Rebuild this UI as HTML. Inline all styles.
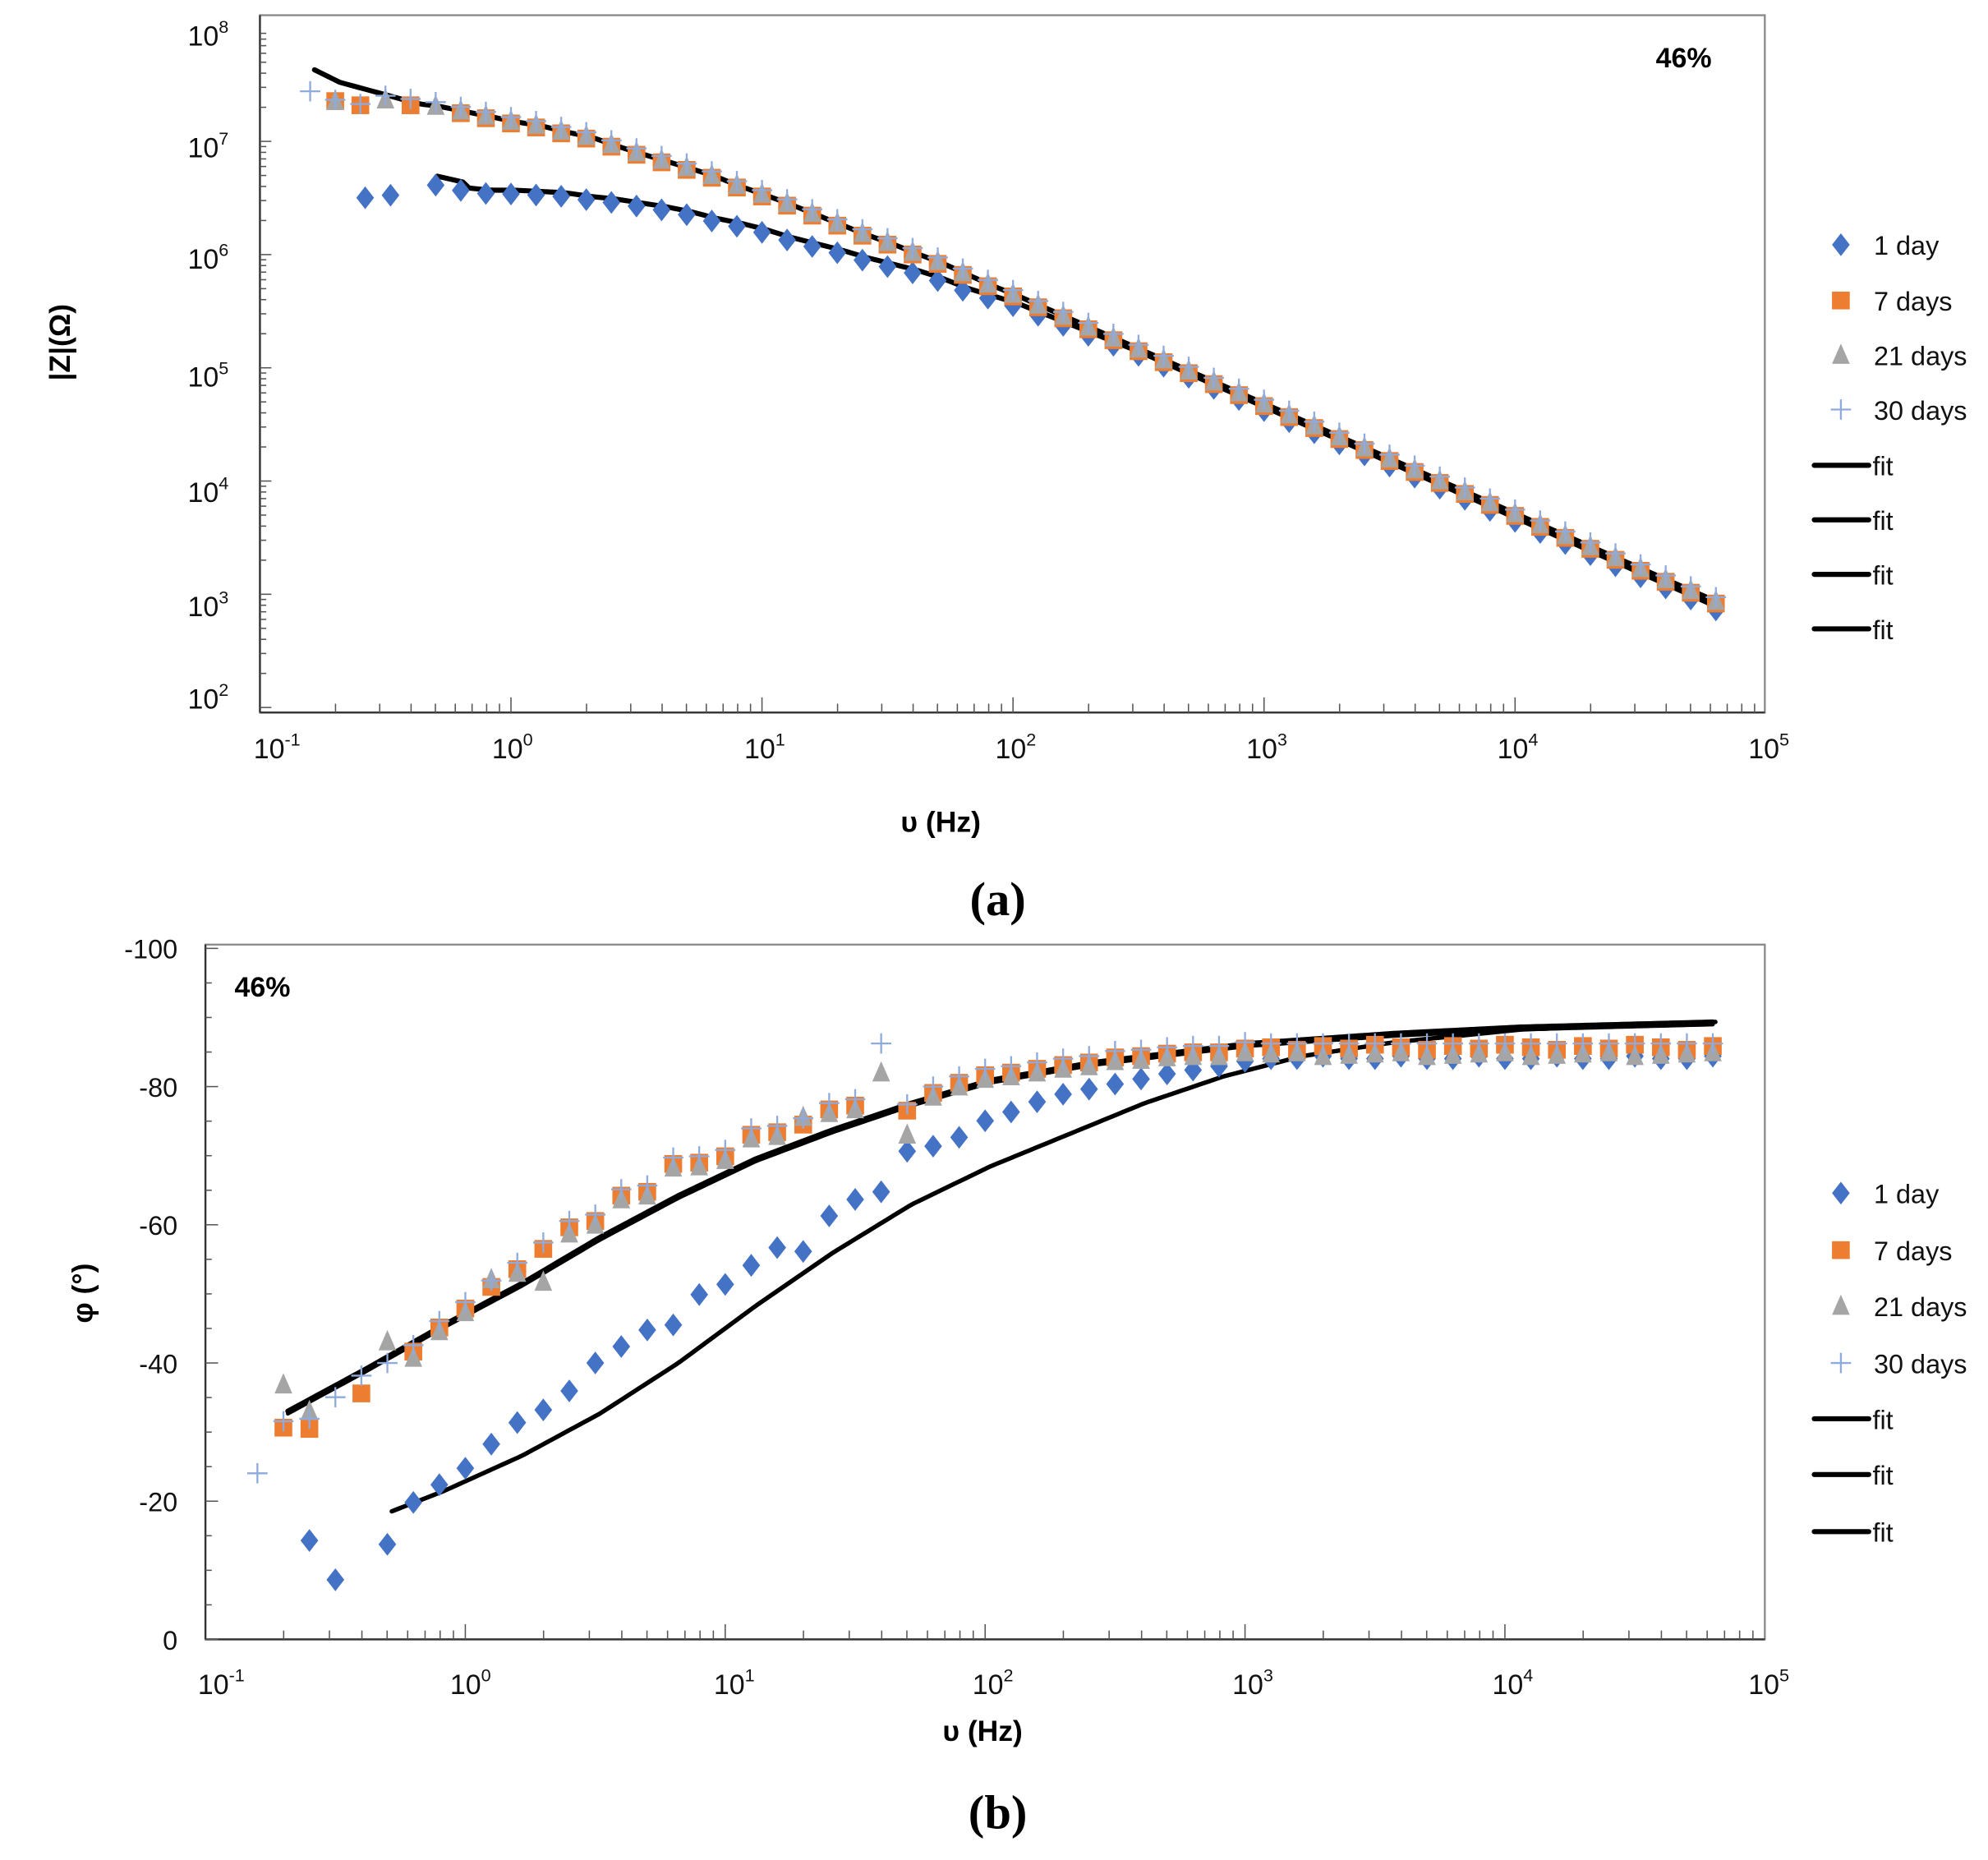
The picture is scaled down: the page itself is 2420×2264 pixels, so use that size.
<!DOCTYPE html>
<html><head><meta charset="utf-8"><style>
html,body{margin:0;padding:0;background:#fff}
svg{display:block}
text{font-family:"Liberation Sans",sans-serif}
.pl{font-family:"Liberation Serif",serif;font-weight:bold}
</style></head><body>
<svg id="s" width="2420" height="2264" viewBox="0 0 1568 1467" xmlns="http://www.w3.org/2000/svg">
<rect width="1568" height="1467" fill="#fff"/>
<rect x="205" y="12" width="1187" height="550" fill="none" stroke="#888" stroke-width="1.5"/>
<line x1="205" y1="12" x2="205" y2="562" stroke="#333" stroke-width="1.5"/>
<line x1="205" y1="562" x2="1392" y2="562" stroke="#333" stroke-width="1.5"/>
<g id="ga"></g>
<g font-size="22" fill="#111">
<text x="148" y="36">10<tspan font-size="14" dy="-10">8</tspan></text>
<text x="148" y="124">10<tspan font-size="14" dy="-10">7</tspan></text>
<text x="148" y="212">10<tspan font-size="14" dy="-10">6</tspan></text>
<text x="148" y="305">10<tspan font-size="14" dy="-10">5</tspan></text>
<text x="148" y="396">10<tspan font-size="14" dy="-10">4</tspan></text>
<text x="148" y="486">10<tspan font-size="14" dy="-10">3</tspan></text>
<text x="148" y="559">10<tspan font-size="14" dy="-10">2</tspan></text>
<text x="200" y="598">10<tspan font-size="14" dy="-10">-1</tspan></text>
<text x="388" y="598">10<tspan font-size="14" dy="-10">0</tspan></text>
<text x="587" y="598">10<tspan font-size="14" dy="-10">1</tspan></text>
<text x="785" y="598">10<tspan font-size="14" dy="-10">2</tspan></text>
<text x="983" y="598">10<tspan font-size="14" dy="-10">3</tspan></text>
<text x="1181" y="598">10<tspan font-size="14" dy="-10">4</tspan></text>
<text x="1379" y="598">10<tspan font-size="14" dy="-10">5</tspan></text>
</g>
<text x="1328" y="53" font-size="22" font-weight="bold" text-anchor="middle">46%</text>
<text x="742" y="656" font-size="23" font-weight="bold" text-anchor="middle">υ (Hz)</text>
<text transform="translate(55,270) rotate(-90)" font-size="23" font-weight="bold" text-anchor="middle">|Z|(Ω)</text>
<text class="pl" x="787" y="722" font-size="38" text-anchor="middle">(a)</text>

<rect x="162" y="745" width="1230" height="548" fill="none" stroke="#888" stroke-width="1.5"/>
<line x1="162" y1="745" x2="162" y2="1293" stroke="#333" stroke-width="1.5"/>
<line x1="162" y1="1293" x2="1392" y2="1293" stroke="#333" stroke-width="1.5"/>
<g id="gb"></g>
<g font-size="21" fill="#111" text-anchor="end">
<text x="140" y="756">-100</text>
<text x="140" y="865">-80</text>
<text x="140" y="974">-60</text>
<text x="140" y="1083">-40</text>
<text x="140" y="1192">-20</text>
<text x="140" y="1301">0</text>
</g>
<g font-size="22" fill="#111">
<text x="156" y="1336">10<tspan font-size="14" dy="-10">-1</tspan></text>
<text x="355" y="1336">10<tspan font-size="14" dy="-10">0</tspan></text>
<text x="563" y="1336">10<tspan font-size="14" dy="-10">1</tspan></text>
<text x="767" y="1336">10<tspan font-size="14" dy="-10">2</tspan></text>
<text x="972" y="1336">10<tspan font-size="14" dy="-10">3</tspan></text>
<text x="1177" y="1336">10<tspan font-size="14" dy="-10">4</tspan></text>
<text x="1379" y="1336">10<tspan font-size="14" dy="-10">5</tspan></text>
</g>
<text x="207" y="786" font-size="22" font-weight="bold" text-anchor="middle">46%</text>
<text x="775" y="1373" font-size="23" font-weight="bold" text-anchor="middle">υ (Hz)</text>
<text transform="translate(73,1020) rotate(-90)" font-size="23" font-weight="bold" text-anchor="middle">φ (°)</text>
<text class="pl" x="787" y="1442" font-size="38" text-anchor="middle">(b)</text>
<g id="leg" font-size="21" fill="#111"></g>
</svg>
<script>
const NS="http://www.w3.org/2000/svg";
function el(p,t,a){const e=document.createElementNS(NS,t);for(const k in a)e.setAttribute(k,a[k]);p.appendChild(e);return e;}
const C={b:"#4472C4",o:"#ED7D31",g:"#A5A5A5",p:"#8FAADC"};
function mk(p,type,x,y){
 if(type=="b")el(p,"polygon",{points:`${x},${y-9} ${x+7},${y} ${x},${y+9} ${x-7},${y}`,fill:C.b});
 else if(type=="o")el(p,"rect",{x:x-7,y:y-7,width:14,height:14,fill:C.o});
 else if(type=="g")el(p,"polygon",{points:`${x},${y-9} ${x+7},${y+7} ${x-7},${y+7}`,fill:C.g});
 else {el(p,"line",{x1:x-8,y1:y,x2:x+8,y2:y,stroke:C.p,"stroke-width":1.5});el(p,"line",{x1:x,y1:y-8,x2:x,y2:y+8,stroke:C.p,"stroke-width":1.5});}
}
function interp(pts,x){if(x<=pts[0][0])return pts[0][1];for(let i=1;i<pts.length;i++){if(x<=pts[i][0]){const a=pts[i-1],b=pts[i];return a[1]+(b[1]-a[1])*(x-a[0])/(b[0]-a[0]);}}return pts[pts.length-1][1];}
function poly(p,pts,w){el(p,"polyline",{points:pts.map(q=>q.join(",")).join(" "),fill:"none",stroke:"#000","stroke-width":w,"stroke-linejoin":"round","stroke-linecap":"round"});}
const ga=document.getElementById("ga");
for(let d=-1;d<5;d++)for(let m=1;m<10;m++){const x=403+198*(d+Math.log10(m));if(x<=205)continue;el(ga,"line",{x1:x,y1:562,x2:x,y2:m==1?550:555,stroke:"#555","stroke-width":1});}
for(let d=2;d<8;d++)for(let m=1;m<10;m++){const y=558-89.3*(d-2+Math.log10(m));el(ga,"line",{x1:205,y1:y,x2:m==1?214:210,y2:y,stroke:"#555","stroke-width":1});}
const up=[[245,66],[268,74],[300,78],[347,84],[367,88],[387,92],[406,96],[426,99],[446,104],[466,108],[486,115],[505,121],[525,127],[545,133],[564,139],[584,147],[604,154],[623,161],[643,169],[663,177],[683,185],[703,192],[723,200],[742,207],[762,216],[782,225],[802,233],[1353,474]];
const lo=[[345,143],[367,148],[387,150],[406,150],[426,151],[446,152],[466,155],[486,157],[505,160],[525,163],[545,167],[564,172],[584,176],[604,181],[623,187],[643,192],[663,197],[683,203],[703,208],[723,213],[742,219],[762,227],[782,233],[802,239],[900,278],[1353,478]];
const fu=[],fl=[];for(let x=248;x<=1353;x+=5)fu.push([x,interp(up,x)-(x<330?12*(330-x)/82:0)]);for(let x=345;x<=1353;x+=5)fl.push([x,interp(lo,x)-(x<370?4:0)]);
poly(ga,fu,4);poly(ga,fl,4);
for(let k=-3;k<=48;k++){const x=403+19.8*k;mk(ga,"b",x,interp(lo,x)+3);}
mk(ga,"b",288,156);mk(ga,"b",308,154);
for(let k=-7;k<=48;k++){if(k==-5||k==-3)continue;const x=403+19.8*k;mk(ga,"o",x,interp(up,x)+(x<300?7:2));}
for(let k=-7;k<=48;k++){if(k==-6||k==-4)continue;const x=403+19.8*k;mk(ga,"g",x,interp(up,x)+(x<300?7:0));}
for(let k=-8;k<=48;k++){const x=403+19.8*k;mk(ga,"p",x,interp(up,x)-(x<300?-6:3));}
const gb=document.getElementById("gb");
for(let d=-1;d<5;d++)for(let m=1;m<10;m++){const x=367+205*(d+Math.log10(m));if(x<=162)continue;el(gb,"line",{x1:x,y1:1293,x2:x,y2:m==1?1281:1286,stroke:"#555","stroke-width":1});}
for(let v=0;v<=100;v+=5){const y=1293-5.45*v;el(gb,"line",{x1:162,y1:y,x2:v%20==0?172:167,y2:y,stroke:"#555","stroke-width":1});}
const f7=[[227,1113],[288,1080],[350,1045],[412,1012],[473,976],[535,943],[596,914],[657,891],[719,870],[781,852],[862,838],[985,823],[1100,815],[1200,810],[1353,806]];
const f1=[[309,1192],[350,1176],[412,1148],[473,1115],[535,1075],[596,1030],[657,988],[719,950],[781,920],[842,895],[903,870],[965,849],[1027,833],[1100,822],[1200,812],[1353,806]];
function sm(pts){const o=[];for(let x=pts[0][0];x<=1353;x+=4)o.push([x,interp(pts,x)]);return o;}
poly(gb,sm(f7),4);poly(gb,sm(f1),3.5);poly(gb,sm(f7).map(q=>[q[0],q[1]+2]),3);
const d1={"-6":1215,"-5":1246,"-3":1218,"-2":1185,"-1":1171,"0":1158,"1":1139,"2":1122,"3":1112,"4":1097,"5":1075,"6":1062,"7":1049,"8":1045,"9":1021,"10":1013,"11":998,"12":984,"13":987,"14":959,"15":946,"16":940,"17":908,"18":904,"19":897,"20":884,"21":877,"22":869,"23":863,"24":859,"25":855,"26":851,"27":847,"28":844,"29":841,"30":837};
for(let k=-6;k<=48;k++){if(k==-4)continue;const x=367+20.5*k;const y=d1[k]!==undefined?d1[k]:835-(k%3==0?2:0);mk(gb,"b",x,y);}
const d7={"-7":1126,"-6":1127,"-4":1099,"-2":1066,"-1":1047,"0":1032,"1":1015,"2":1001,"3":985,"4":968,"5":963,"6":943,"7":940,"8":918,"9":917,"10":912,"11":895,"12":893,"13":887,"14":875,"15":872,"17":876,"18":862,"19":854,"20":848,"21":846,"22":843,"23":840,"24":838,"25":834,"26":833,"27":831,"28":830,"29":830,"30":827};
for(let k=-7;k<=48;k++){if(d7[k]===undefined&&k<31)continue;const x=367+20.5*k;const y=d7[k]!==undefined?d7[k]:826+((k*7)%5)-2;mk(gb,"o",x,y);}
const d21=Object.assign({},d7,{"-7":1089,"-6":1110,"-3":1055,"3":1008,"1":1006,"4":970,"13":878,"16":843,"17":892,"-2":1068});delete d21["-4"];
for(let k=-7;k<=48;k++){if(d21[k]===undefined&&k<31)continue;const x=367+20.5*k;const y=d21[k]!==undefined?d21[k]+3:830+((k*3)%4);mk(gb,"g",x,y);}
const d30={"-8":1162,"-6":1119,"-5":1102,"-4":1085,"-3":1075};
for(let k=-8;k<=48;k++){const x=367+20.5*k;let y=d30[k];if(y===undefined){y=(d7[k]!==undefined?d7[k]:828)-5;}mk(gb,"p",x,y);}
const lg=document.getElementById("leg");
function legend(ys,fits){const t=["1 day","7 days","21 days","30 days"],ty=["b","o","g","p"];
 for(let i=0;i<4;i++){mk(lg,ty[i],1452,ys[i]);const e=el(lg,"text",{x:1478,y:ys[i]+8});e.textContent=t[i];}
 fits.forEach(y=>{el(lg,"line",{x1:1431,y1:y,x2:1474,y2:y,stroke:"#000","stroke-width":4,"stroke-linecap":"round"});const e=el(lg,"text",{x:1477,y:y+8});e.textContent="fit";});}
legend([193,237,280,323],[367,410,453,496]);
legend([941,986,1030,1075],[1119,1163,1208]);
</script>
</body></html>
